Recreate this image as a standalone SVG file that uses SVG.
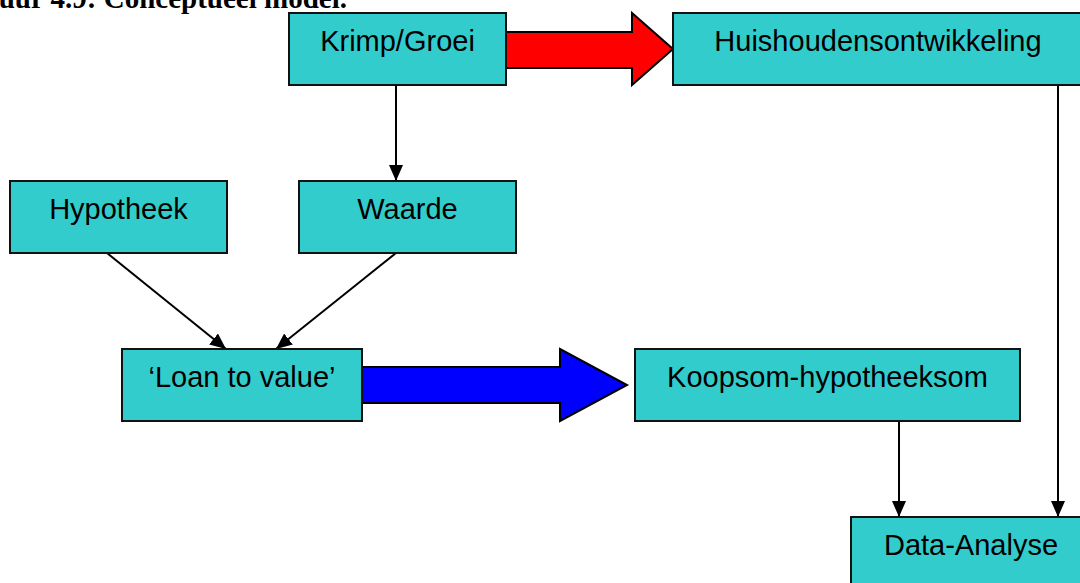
<svg xmlns="http://www.w3.org/2000/svg" width="1080" height="583" viewBox="0 0 1080 583">
<style>
.box{fill:#33CCCC;stroke:#111;stroke-width:2}
.lbl{font-family:"Liberation Sans",Arial,sans-serif;font-size:29px;fill:#000;text-anchor:middle}
.ln{stroke:#000;stroke-width:2;fill:none;marker-end:url(#ah)}
.title{font-family:"Liberation Serif","Times New Roman",serif;font-weight:bold;font-size:29px;fill:#000}
</style>
<defs>
<marker id="ah" viewBox="0 0 16 14" refX="16" refY="7" markerWidth="16" markerHeight="14" markerUnits="userSpaceOnUse" orient="auto">
<path d="M0,0 L16,7 L0,14 Z" fill="#000"/>
</marker>
</defs>
<rect width="1080" height="583" fill="#fff"/>
<text class="title" x="347" y="8" text-anchor="end">uur 4.9: Conceptueel model.</text>
<g id="connectors">
<line class="ln" x1="396" y1="85" x2="396" y2="181"/>
<line class="ln" x1="107" y1="253" x2="226" y2="349"/>
<line class="ln" x1="396" y1="253" x2="276" y2="349"/>
<line class="ln" x1="899" y1="421" x2="899" y2="517"/>
<line class="ln" x1="1058" y1="85" x2="1058" y2="517"/>
<polygon points="506,32 632,32 632,13 673,49 632,85 632,68 506,68" fill="#FF0000" stroke="#000" stroke-width="2"/>
<polygon points="362,367 560,367 560,349 627,385 560,421 560,403 362,403" fill="#0000FF" stroke="#000" stroke-width="2"/>
</g>
<g id="krimp"><rect class="box" x="289" y="13" width="217" height="72"/><text class="lbl" x="397.5" y="51">Krimp/Groei</text></g>
<g id="huishouden"><rect class="box" x="673" y="13" width="410" height="72"/><text class="lbl" x="878" y="51">Huishoudensontwikkeling</text></g>
<g id="hypotheek"><rect class="box" x="10" y="181" width="217" height="72"/><text class="lbl" x="118.5" y="219">Hypotheek</text></g>
<g id="waarde"><rect class="box" x="299" y="181" width="217" height="72"/><text class="lbl" x="407.5" y="219">Waarde</text></g>
<g id="loan"><rect class="box" x="122" y="349" width="240" height="72"/><text class="lbl" x="242" y="387">‘Loan to value’</text></g>
<g id="koopsom"><rect class="box" x="635" y="349" width="385" height="72"/><text class="lbl" x="827.5" y="387">Koopsom-hypotheeksom</text></g>
<g id="data"><rect class="box" x="851" y="517" width="240" height="80"/><text class="lbl" x="971" y="555">Data-Analyse</text></g>
</svg>
